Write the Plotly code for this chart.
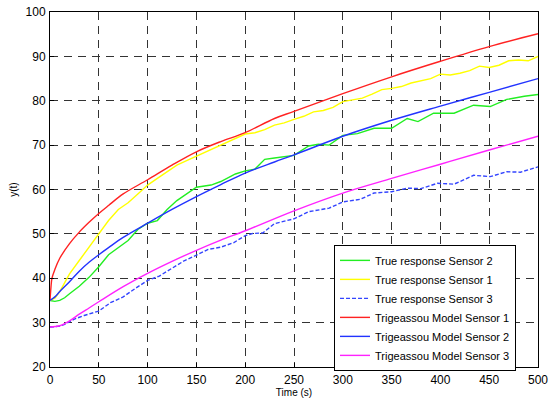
import plotly.graph_objects as go

# ---- data ----
t_s1 = [0, 5, 10, 15, 20, 30, 40, 50, 60, 70, 80, 90, 100, 110, 120, 130, 140, 150, 160, 170, 180, 190, 200,
        210, 220, 230, 240, 250, 260, 270, 280, 290, 300, 310, 320, 330, 340, 350, 360, 370, 380, 390, 400,
        410, 420, 430, 440, 450, 460, 470, 480, 490, 500]
true_s1 = [35, 35.5, 37, 39, 41, 44, 47, 50, 53, 55.5, 57, 59, 61, 62.5, 64, 65.5, 66.5, 67.5, 68.5, 69.5, 70.5, 71.5, 72.5,
           72.8, 73.5, 74.5, 75, 75.8, 76.5, 77.5, 77.8, 78.5, 79.8, 80.2, 80.6, 81.5, 82.5, 82.8, 83.2, 84, 84.5, 85, 86,
           85.8, 86.2, 86.8, 87.8, 87.5, 88, 89, 89.2, 89, 90]

t_s2 = [0, 5, 10, 15, 20, 30, 40, 50, 60, 70, 80, 90, 100, 110, 120, 130, 140, 150, 165, 175, 190, 200, 210, 220, 230,
        250, 265, 275, 286, 300, 315, 332, 350, 366, 377, 393, 414, 434, 451, 468, 486, 500]
true_s2 = [35, 34.8, 35, 35.6, 36.5, 38.2, 40.2, 42.6, 45.3, 47, 48.5, 51, 52.4, 53, 55.5, 57.5, 59, 60.5, 61, 61.8, 63.5, 64.2,
           64.6, 66.8, 67.1, 67.7, 69.8, 70.2, 70, 72.2, 72.6, 73.8, 73.8, 76, 75.3, 77.2, 77.2, 79, 78.7, 80.3, 81, 81.4]

t_s3 = [0, 10, 15, 25, 35, 50, 62, 75, 88, 100, 112, 125, 138, 150, 162, 175, 188, 200, 208, 218, 230, 250, 265, 286,
        300, 318, 332, 350, 366, 380, 397, 414, 434, 451, 468, 482, 500]
true_s3 = [29, 29.2, 29.6, 30.8, 31.6, 32.6, 34.5, 35.8, 37.8, 39.5, 40.5, 42.2, 44, 45.2, 46.5, 47, 48, 49.6, 50.1, 50.2,
           52.3, 53.4, 55, 55.8, 57.2, 57.8, 59.2, 59.5, 60.3, 60.2, 61.4, 61.2, 63.2, 62.9, 64, 63.9, 65.1]

t_m1 = [0, 1, 2, 5, 10, 20, 30, 40, 50, 60, 75, 100, 125, 150, 175, 200, 230, 250, 300, 350, 400, 450, 500]
model_s1 = [35, 38, 40, 42, 44.5, 47.8, 50.4, 52.6, 54.6, 56.4, 59, 62.2, 65.5, 68.5, 70.8, 72.8, 76, 77.6, 81.6, 85.4, 88.9, 92.2, 95.1]

t_m2 = [0, 5, 10, 20, 30, 40, 50, 60, 75, 100, 125, 150, 175, 200, 230, 250, 300, 350, 400, 450, 500]
model_s2 = [35, 35.8, 37, 39.2, 41.6, 43.6, 45.3, 46.9, 49.2, 52.4, 55.5, 58.4, 61.1, 63.7, 66.2, 67.8, 72, 75.6, 78.8, 81.9, 85]

t_m3 = [0, 10, 20, 30, 40, 50, 75, 100, 125, 150, 175, 200, 250, 300, 350, 400, 450, 500]
model_s3 = [29, 29.3, 30.4, 31.9, 33.3, 34.7, 38.1, 41.1, 43.8, 46.3, 48.6, 50.7, 55.2, 59.2, 62.5, 65.7, 68.9, 72]

x_ticks = list(range(0, 501, 50))
y_ticks = list(range(20, 101, 10))

FONT = "Liberation Sans, Arial"

fig = go.Figure()
lw = 1.4
fig.add_trace(go.Scatter(x=t_s2, y=true_s2, mode="lines", name="True response Sensor 2",
                         line=dict(color="#22ee22", width=lw)))
fig.add_trace(go.Scatter(x=t_s1, y=true_s1, mode="lines", name="True response Sensor 1",
                         line=dict(color="#ffff00", width=lw)))
fig.add_trace(go.Scatter(x=t_s3, y=true_s3, mode="lines", name="True response Sensor 3",
                         line=dict(color="#3344ff", width=lw, dash="4px,2px")))
fig.add_trace(go.Scatter(x=t_m1, y=model_s1, mode="lines", name="Trigeassou Model Sensor 1",
                         line=dict(color="#ff2222", width=lw, shape="spline")))
fig.add_trace(go.Scatter(x=t_m2, y=model_s2, mode="lines", name="Trigeassou Model Sensor 2",
                         line=dict(color="#2233ff", width=lw, shape="spline")))
fig.add_trace(go.Scatter(x=t_m3, y=model_s3, mode="lines", name="Trigeassou Model Sensor 3",
                         line=dict(color="#ff22ff", width=lw, shape="spline")))

axis_common = dict(showline=True, linecolor="black", linewidth=1, mirror=True,
                   ticks="inside", ticklen=4, tickcolor="black", automargin=False,
                   showgrid=True, gridcolor="#333333", griddash="8px,6px", gridwidth=1,
                   zeroline=False, tickfont=dict(family=FONT, size=12, color="black"))

fig.update_xaxes(range=[0, 500], tickvals=x_ticks, ticklabelstandoff=2,
                 title=dict(text="Time (s)", standoff=2, font=dict(family=FONT, size=10, color="black")),
                 **axis_common)
fig.update_yaxes(range=[20, 100], tickvals=y_ticks, ticklabelstandoff=1,
                 title=dict(text="y(t)", standoff=6, font=dict(family=FONT, size=10, color="black")),
                 **axis_common)

fig.update_layout(
    width=555, height=403,
    margin=dict(l=50, r=17, t=12, b=36),
    paper_bgcolor="white", plot_bgcolor="white",
    showlegend=True,
    legend=dict(x=0.582, y=0.344, xanchor="left", yanchor="top",
                bgcolor="white", bordercolor="black", borderwidth=1,
                font=dict(family=FONT, size=11, color="black"),
                tracegroupgap=0, itemwidth=30),
)

# remove the default page margin so the figure sits at the window's corner
fig.write_html("out.html", config={"displayModeBar": False},
               post_script="document.body.style.margin='0';document.body.style.overflow='hidden';")
